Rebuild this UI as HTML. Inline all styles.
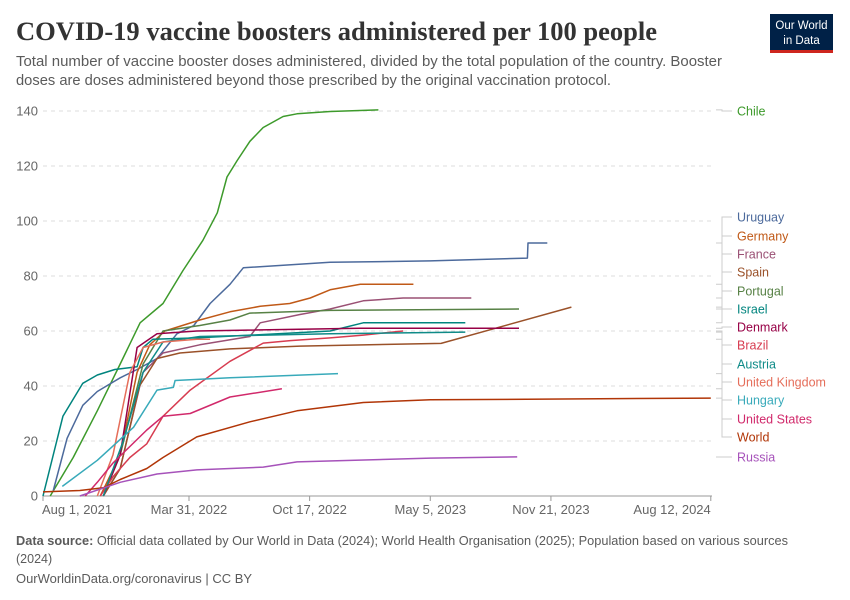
<!DOCTYPE html>
<html><head><meta charset="utf-8"><style>
body{margin:0;background:#fff;}
svg{display:block;font-family:"Liberation Sans",sans-serif;}
</style></head><body>
<svg id="chart" width="850" height="600" viewBox="0 0 850 600">
<text x="16" y="40" font-family="Liberation Serif, serif" font-weight="bold" font-size="26" fill="#333" textLength="641" lengthAdjust="spacingAndGlyphs">COVID-19 vaccine boosters administered per 100 people</text>
<text x="16" y="66" font-size="14.5" fill="#5b5b5b" textLength="706" lengthAdjust="spacingAndGlyphs">Total number of vaccine booster doses administered, divided by the total population of the country. Booster</text>
<text x="16" y="85" font-size="14.5" fill="#5b5b5b" textLength="595" lengthAdjust="spacingAndGlyphs">doses are doses administered beyond those prescribed by the original vaccination protocol.</text>
<g>
<rect x="770" y="14" width="63" height="36" fill="#002147"/>
<rect x="770" y="50" width="63" height="3" fill="#ce261e"/>
<text x="801.5" y="29" font-size="11.5" fill="#fff" text-anchor="middle">Our World</text>
<text x="801.5" y="44" font-size="11.5" fill="#fff" text-anchor="middle">in Data</text>
</g>
<g id="grid"></g>
<g id="series"></g>
<g id="legend"></g>
<text x="16" y="545" font-size="12.5" fill="#5b5b5b" textLength="772" lengthAdjust="spacingAndGlyphs"><tspan font-weight="bold">Data source:</tspan> Official data collated by Our World in Data (2024); World Health Organisation (2025); Population based on various sources</text>
<text x="16" y="563" font-size="12.5" fill="#5b5b5b">(2024)</text>
<text x="16" y="583" font-size="12.5" fill="#5b5b5b" textLength="236" lengthAdjust="spacingAndGlyphs">OurWorldinData.org/coronavirus | CC BY</text>
</svg>
<script>
const yTicks=[0,20,40,60,80,100,120,140];
const xTickDays=[0,242,442,642,842,1107];
const xTickLabels=["Aug 1, 2021","Mar 31, 2022","Oct 17, 2022","May 5, 2023","Nov 21, 2023","Aug 12, 2024"];
const seriesNames=["Chile","Uruguay","Germany","France","Spain","Portugal","Israel","Denmark","Brazil","Austria","United Kingdom","Hungary","United States","World","Russia"];
const seriesColors=["#3d9a2b","#4c6a9c","#c05917","#9a5074","#9a5129","#578145","#00847e","#970046","#d73c50","#0f8b88","#e56e5a","#38aaba","#d1296b","#b13507","#a652ba"];
const chileDays=[12,50,90,128,161,199,232,265,289,305,322,343,365,398,421,476,556];
const chileVals=[0,14,31,48,63,70,82,93,103,116,122,129,134,138,139,139.8,140.4];
const uruguayDays=[17,40,66,90,128,156,189,222,250,277,310,332,476,642,803,804,836];
const uruguayVals=[2,21,33,38,43,46,50,59,62,70,77,83,85,85.5,86.5,92,92];
const germanyDays=[95,128,156,177,202,260,310,360,409,443,476,526,614];
const germanyVals=[0,15,45,55,60,64,67,69,70,72,75,77,77];
const franceDays=[100,128,166,199,260,343,360,426,476,531,597,710];
const franceVals=[0,10,45,52,55,58,63,66,68,71,72,72];
const spainDays=[100,128,160,189,227,310,426,660,876];
const spainVals=[0,10,40,50,52,53.5,54.5,55.5,68.7];
const portugalDays=[100,128,166,199,260,310,343,476,789];
const portugalVals=[0,15,48,60,62,64,66.5,67.5,68];
const israelDays=[0,33,66,90,119,156,166,182,255,476,531,700];
const israelVals=[0,29,41,44,46,47,54,57,57.5,60,63,63];
const denmarkDays=[100,128,156,189,255,526,789];
const denmarkVals=[0,15,54,59,60,61,61];
const brazilDays=[95,116,144,172,199,244,310,365,410,476,531,597];
const brazilVals=[0,7,14,19,29,38.5,49,55.6,56.5,57.5,58.5,60];
const austriaDays=[100,133,166,199,260,476,700];
const austriaVals=[0,20,45,56,58,59,59.6];
const ukDays=[90,116,144,166,199,255,277];
const ukVals=[0,15,45,54,56,57,57];
const hungaryDays=[32,90,150,189,216,219,310,489];
const hungaryVals=[3.5,13,25,38.5,39.5,42,43,44.5];
const usDays=[70,90,116,144,172,199,244,310,396];
const usVals=[0,5,12,18,24,29,30,36,39];
const worldDays=[0,61,100,128,172,199,255,343,421,531,642,1107];
const worldVals=[1.5,2,3,6,10,14,21.5,27,31,34,35,35.6];
const russiaDays=[61,128,189,255,365,421,642,786];
const russiaVals=[0,5,8,9.5,10.5,12.4,13.8,14.2];
const allDays=[chileDays,uruguayDays,germanyDays,franceDays,spainDays,portugalDays,israelDays,denmarkDays,brazilDays,austriaDays,ukDays,hungaryDays,usDays,worldDays,russiaDays];
const allVals=[chileVals,uruguayVals,germanyVals,franceVals,spainVals,portugalVals,israelVals,denmarkVals,brazilVals,austriaVals,ukVals,hungaryVals,usVals,worldVals,russiaVals];
const labelY=[111,217,236,254,272,291,309,327,345,364,382,400,419,437,457];

const NS="http://www.w3.org/2000/svg";
const X0=43,X1=712,Y0=496,Y1=111;
function xScale(d){return X0+d*(X1-X0)/1109;}
function yScale(v){return Y0-v*(Y0-Y1)/140;}
function mk(tag,attrs,parent){const e=document.createElementNS(NS,tag);for(const k in attrs)e.setAttribute(k,attrs[k]);parent.appendChild(e);return e;}
const grid=document.getElementById('grid');
yTicks.forEach(t=>{
  if(t>0){const l=mk('line',{x1:X0,x2:X1,y1:yScale(t),y2:yScale(t),stroke:'#ddd','stroke-dasharray':'4,4'},grid);
  
  }
  const tx=mk('text',{x:38,y:yScale(t)+4.5,'text-anchor':'end','font-size':'13',fill:'#666'},grid);
  tx.textContent=t;
  
  
});
const ax=mk('line',{x1:X0,x2:X1,y1:Y0,y2:Y0,stroke:'#999'},grid);


xTickDays.forEach((d,i)=>{
  mk('line',{x1:xScale(d),x2:xScale(d),y1:Y0,y2:Y0+5,stroke:'#999'},grid);
  const tx=mk('text',{x:xScale(d),y:514,'text-anchor':i==0?'start':(i==xTickDays.length-1?'end':'middle'),'font-size':'13',fill:'#666'},grid);
  if(i==0)tx.setAttribute('x',xScale(d)-1);
  tx.textContent=xTickLabels[i];
  
  
});
const sg=document.getElementById('series'),lg=document.getElementById('legend');
seriesNames.forEach((n,i)=>{
  const ds=allDays[i],vs=allVals[i];
  const pts=ds.map((d,j)=>xScale(d).toFixed(1)+','+yScale(vs[j]).toFixed(1)).join(' ');
  const p=mk('polyline',{points:pts,fill:'none',stroke:seriesColors[i],'stroke-width':1.5,'stroke-linejoin':'round'},sg);
  
  
  const ey=yScale(vs[vs.length-1]),ly=labelY[i];
  mk('polyline',{points:`716,${ey} 722,${ey} 722,${ly} 732,${ly}`,fill:'none',stroke:'#ccc','stroke-width':1},lg);
  const t=mk('text',{x:737,y:ly+4.5,'font-size':'12.5',fill:seriesColors[i]},lg);
  t.textContent=n;
  
  
});
</script>
</body></html>
